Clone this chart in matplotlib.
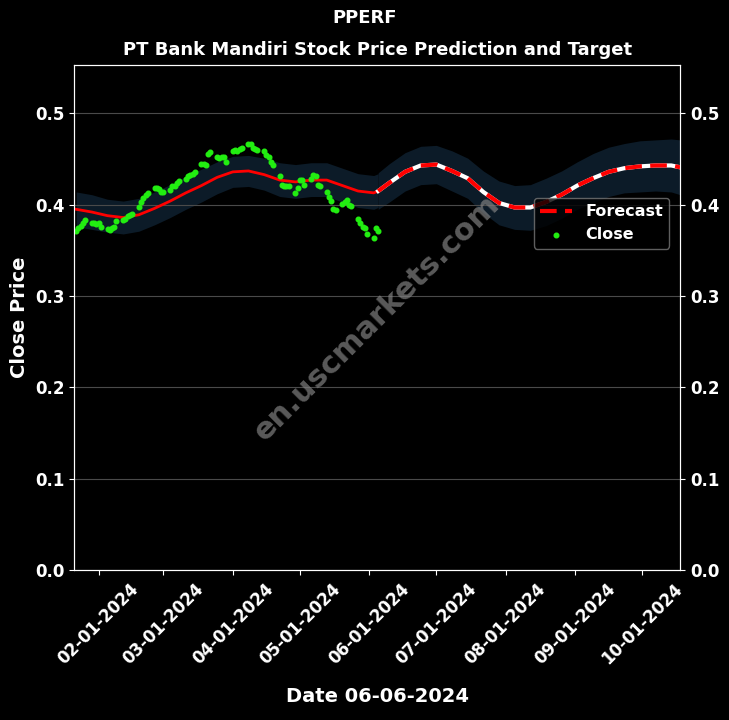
import pandas as pd
import matplotlib.pyplot as plt
import matplotlib.dates as mdates

# Dane - kurs zamkniecia (dni robocze 22-01-2024 .. 05-06-2024)
close_dates = pd.bdate_range('2024-01-22', '2024-06-05')
close_vals = [
    0.371, 0.374, 0.377, 0.380, 0.383, 0.380, 0.380, 0.379,
    0.380, 0.376, 0.373, 0.372, 0.374, 0.376, 0.382, 0.383, 0.384, 0.388, 0.389, 0.390,
    0.397, 0.403, 0.407, 0.411, 0.413, 0.418, 0.418, 0.417, 0.414,
    0.414, 0.416, 0.420, 0.421, 0.424, 0.426, 0.428, 0.431, 0.433, 0.434, 0.436,
    0.445, 0.445, 0.444, 0.456, 0.458, 0.452, 0.451, 0.452, 0.452, 0.447,
    0.459, 0.460, 0.459, 0.461, 0.462, 0.467, 0.466, 0.462, 0.461, 0.460,
    0.459, 0.455, 0.452, 0.447, 0.443, 0.432, 0.422, 0.421, 0.420, 0.421, 0.413, 0.418,
    0.427, 0.427, 0.422, 0.428, 0.433, 0.432, 0.422, 0.421, 0.414, 0.408, 0.404,
    0.395, 0.394, 0.401, 0.403, 0.405, 0.400, 0.399, 0.384, 0.380, 0.376, 0.375, 0.368,
    0.364, 0.375, 0.371,
]

# Trend historyczny (co tydzien)
trend_dates = pd.to_datetime([
    '2024-01-22', '2024-01-29', '2024-02-05', '2024-02-12', '2024-02-19', '2024-02-26',
    '2024-03-04', '2024-03-11', '2024-03-18', '2024-03-25', '2024-04-01', '2024-04-08',
    '2024-04-15', '2024-04-22', '2024-04-29', '2024-05-06', '2024-05-13', '2024-05-20',
    '2024-05-27', '2024-06-03', '2024-06-05',
])
trend_vals = [0.395, 0.392, 0.388, 0.386, 0.389, 0.396, 0.404, 0.413, 0.421, 0.430,
              0.436, 0.437, 0.433, 0.427, 0.425, 0.427, 0.427, 0.421, 0.415, 0.413, 0.415]
trend_upper = [0.414, 0.411, 0.406, 0.404, 0.407, 0.414, 0.422, 0.431, 0.439, 0.447,
               0.453, 0.454, 0.451, 0.446, 0.444, 0.446, 0.446, 0.440, 0.434, 0.432, 0.434]
trend_lower = [0.376, 0.373, 0.370, 0.368, 0.371, 0.378, 0.386, 0.395, 0.403, 0.412,
               0.419, 0.420, 0.416, 0.409, 0.407, 0.409, 0.409, 0.403, 0.397, 0.395, 0.397]

# Prognoza
fc_dates = pd.to_datetime([
    '2024-06-05', '2024-06-10', '2024-06-17', '2024-06-24', '2024-07-01', '2024-07-08',
    '2024-07-15', '2024-07-22', '2024-07-29', '2024-08-05', '2024-08-12', '2024-08-19',
    '2024-08-26', '2024-09-02', '2024-09-09', '2024-09-16', '2024-09-23', '2024-09-30',
    '2024-10-07', '2024-10-14', '2024-10-18',
])
fc_vals = [0.415, 0.424, 0.436, 0.443, 0.444, 0.437, 0.429, 0.414, 0.402, 0.397, 0.397,
           0.403, 0.411, 0.421, 0.429, 0.436, 0.440, 0.442, 0.443, 0.443, 0.441]
fc_upper = [0.435, 0.445, 0.457, 0.464, 0.465, 0.459, 0.451, 0.437, 0.426, 0.421, 0.422,
            0.429, 0.437, 0.447, 0.456, 0.463, 0.467, 0.470, 0.471, 0.472, 0.471]
fc_lower = [0.395, 0.403, 0.415, 0.422, 0.423, 0.415, 0.407, 0.391, 0.378, 0.373, 0.372,
            0.377, 0.385, 0.395, 0.402, 0.409, 0.413, 0.414, 0.415, 0.414, 0.411]

band_color = '#0c1b28'

fig = plt.figure(figsize=(7.29, 7.2), dpi=100, facecolor='black')
ax = fig.add_axes([0.1015, 0.2083, 0.8315, 0.7014])
ax.set_facecolor('black')

ax.grid(axis='y', color='#4a4a4a', linewidth=0.8, zorder=0)
ax.fill_between(trend_dates, trend_lower, trend_upper, color=band_color, linewidth=0, zorder=1)
ax.fill_between(fc_dates, fc_lower, fc_upper, color=band_color, linewidth=0, zorder=1)

ax.plot(trend_dates, trend_vals, color='red', linewidth=2, zorder=3)
ax.plot(fc_dates, fc_vals, color='white', linewidth=3, zorder=3)
ax.plot(fc_dates, fc_vals, color='red', linewidth=3, linestyle='--', dashes=(4, 2), zorder=4,
        label='Forecast')
ax.scatter(close_dates, close_vals, color='#22ee11', s=11, zorder=5, label='Close')

ax.set_ylim(0, 0.553)
ax.set_xlim(pd.Timestamp('2024-01-21'), pd.Timestamp('2024-10-18'))
ax.xaxis.set_major_locator(mdates.MonthLocator(bymonth=range(2, 11)))
ax.xaxis.set_major_formatter(mdates.DateFormatter('%m-%d-%Y'))

for s in ax.spines.values():
    s.set_color('white')
ax.tick_params(colors='white', labelsize=12)
plt.setp(ax.get_xticklabels(), rotation=45, fontweight='bold')
plt.setp(ax.get_yticklabels(), fontweight='bold')

ax2 = ax.twinx()
ax2.set_ylim(ax.get_ylim())
ax2.tick_params(colors='white', labelsize=12)
plt.setp(ax2.get_yticklabels(), fontweight='bold')
for s in ax2.spines.values():
    s.set_color('white')

ax.set_xlabel('Date 06-06-2024', color='white', fontsize=14, fontweight='bold', labelpad=14)
ax.set_ylabel('Close Price', color='white', fontsize=14, fontweight='bold')
ax.set_title('PT Bank Mandiri Stock Price Prediction and Target', color='white',
             fontsize=13, fontweight='bold', pad=7)
fig.suptitle('PPERF', color='white', fontsize=13, fontweight='bold', y=0.988)

leg = ax.legend(loc='upper right', bbox_to_anchor=(0.995, 0.753), facecolor='black',
                edgecolor='#777777', prop={'weight': 'bold', 'size': 11.5})
for t in leg.get_texts():
    t.set_color('white')

ax.text(0.5, 0.5, 'en.uscmarkets.com', transform=ax.transAxes, rotation=45,
        color='gray', alpha=0.7, fontsize=22, fontweight='bold',
        ha='center', va='center', zorder=6)

plt.savefig('out.png', facecolor='black')
